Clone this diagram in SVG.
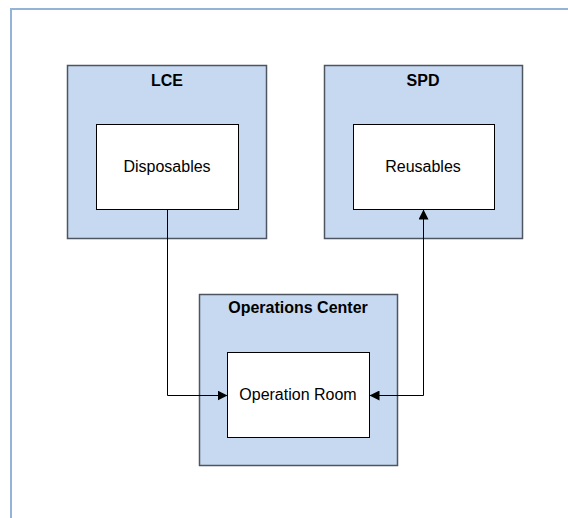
<svg xmlns="http://www.w3.org/2000/svg" width="568" height="518" viewBox="0 0 568 518">
<defs>
<style>
.frame{fill:#ffffff;stroke:#95b3d7;stroke-width:2}
.outer{fill:#c6d9f1;stroke:#4d5560;stroke-width:1.5}
.inner{fill:#ffffff;stroke:#000000;stroke-width:1}
.title{font-family:"Liberation Sans",Arial,sans-serif;font-size:16px;font-weight:bold;fill:#000;text-anchor:middle}
.label{font-family:"Liberation Sans",Arial,sans-serif;font-size:16px;fill:#000;text-anchor:middle}
.conn{fill:none;stroke:#000;stroke-width:1}
</style>
<marker id="arr" viewBox="0 0 10 10" refX="10" refY="5" markerWidth="10" markerHeight="10" markerUnits="userSpaceOnUse" orient="auto-start-reverse">
<path d="M0,0 L10,5 L0,10 z" fill="#000"/>
</marker>
</defs>
<rect width="568" height="518" fill="#ffffff"/>
<rect class="frame" x="11" y="9" width="600" height="540"/>
<g id="LCE">
<rect class="outer" x="67.5" y="65.5" width="199" height="173"/>
<text class="title" x="167" y="86">LCE</text>
<rect class="inner" x="96.5" y="124.5" width="142" height="85"/>
<text class="label" x="167" y="172">Disposables</text>
</g>
<g id="SPD">
<rect class="outer" x="324.5" y="65.5" width="198" height="173"/>
<text class="title" x="423" y="86">SPD</text>
<rect class="inner" x="353.5" y="124.5" width="141" height="85"/>
<text class="label" x="423" y="172">Reusables</text>
</g>
<g id="OperationsCenter">
<rect class="outer" x="199.5" y="294.5" width="198" height="171"/>
<text class="title" x="298" y="313">Operations Center</text>
<rect class="inner" x="227.5" y="352.5" width="142" height="85"/>
<text class="label" x="298" y="400">Operation Room</text>
</g>
<g id="connectors">
<path class="conn" d="M167.5,209.5 V395.5 H227.5" marker-end="url(#arr)"/>
<path class="conn" d="M369.5,395.5 H423.5 V209.5" marker-start="url(#arr)" marker-end="url(#arr)"/>
</g>
</svg>
